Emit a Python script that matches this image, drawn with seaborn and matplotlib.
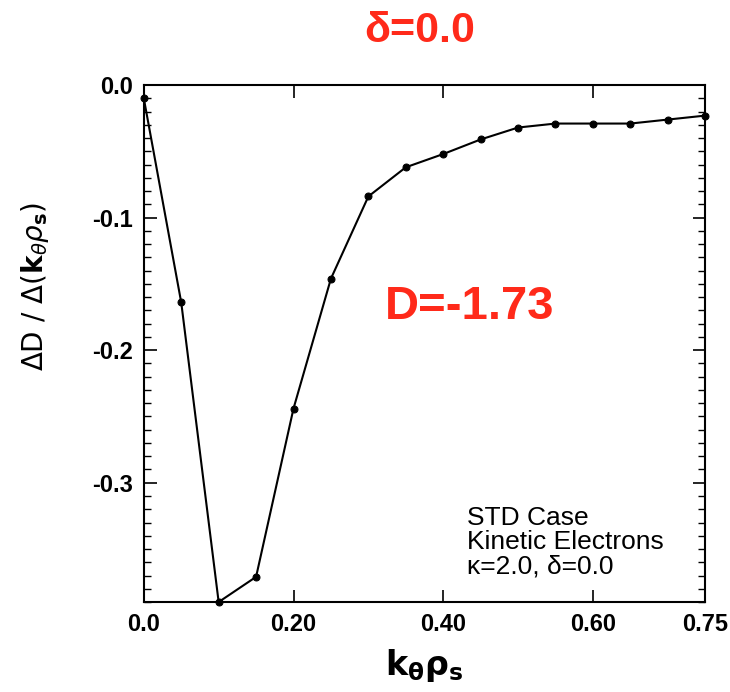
import matplotlib
matplotlib.use("Agg")
import matplotlib.pyplot as plt
import seaborn as sns
import pandas as pd
from matplotlib.ticker import MultipleLocator

k_theta_rho = [0.00, 0.05, 0.10, 0.15, 0.20, 0.25, 0.30, 0.35, 0.40,
               0.45, 0.50, 0.55, 0.60, 0.65, 0.70, 0.75]
dD_dk = [-0.010, -0.164, -0.390, -0.371, -0.244, -0.146, -0.084, -0.062,
         -0.052, -0.041, -0.032, -0.029, -0.029, -0.029, -0.026, -0.023]
x_ticks = [0.0, 0.20, 0.40, 0.60, 0.75]
x_tick_labels = ["0.0", "0.20", "0.40", "0.60", "0.75"]
y_ticks = [0.0, -0.1, -0.2, -0.3]
y_tick_labels = ["0.0", "-0.1", "-0.2", "-0.3"]

sns.set_style("ticks")
plt.rcParams['font.family'] = ['Liberation Sans', 'DejaVu Sans']
plt.rcParams['mathtext.fontset'] = 'dejavusans'
plt.rcParams['text.color'] = 'black'
plt.rcParams['axes.labelcolor'] = 'black'
plt.rcParams['xtick.color'] = 'black'
plt.rcParams['ytick.color'] = 'black'

df = pd.DataFrame({"k": k_theta_rho, "d": dD_dk})

fig = plt.figure(figsize=(7.3, 6.92), dpi=100)
ax = fig.add_axes([0.197, 0.130, 0.769, 0.747])
sns.lineplot(data=df, x="k", y="d", ax=ax, color="black", linewidth=1.5,
             marker="o", markersize=5, markeredgecolor="black", clip_on=False)

ax.set_xlim(0.0, 0.75)
ax.set_ylim(-0.39, 0.0)
ax.set_xticks(x_ticks)
ax.set_xticklabels(x_tick_labels, fontsize=17, fontweight="bold")
ax.set_yticks(y_ticks)
ax.set_yticklabels(y_tick_labels, fontsize=17, fontweight="bold")
ax.yaxis.set_minor_locator(MultipleLocator(0.01))
ax.tick_params(axis="both", which="major", direction="in", length=9, width=1.2,
               top=True, right=True, pad=8)
ax.tick_params(axis="y", which="minor", direction="in", length=5, width=1.0,
               left=True, right=True)
for s in ax.spines.values():
    s.set_linewidth(1.5)
    s.set_color("black")

ax.set_xlabel(r"$\mathbf{k}_{\mathbf{\theta}}\mathbf{\rho}_{\mathbf{s}}$", fontsize=24, labelpad=8)
ax.set_ylabel(r"$\Delta\mathrm{D}\ /\ \Delta(\mathbf{k}_{\theta}\rho_{\mathbf{s}})$", fontsize=20)
ax.yaxis.set_label_coords(-0.165, 0.61)

fig.text(0.575, 0.955, "δ=0.0", color="#ff2a1a", fontsize=31, fontweight="bold",
         ha="center", va="center")
ax.text(0.43, 0.57, "D=-1.73", color="#ff2a1a", fontsize=34, fontweight="bold",
        transform=ax.transAxes, ha="left", va="center")
ax.text(0.575, 0.185, "STD Case\nKinetic Electrons\nκ=2.0, δ=0.0", fontsize=19,
        transform=ax.transAxes, ha="left", va="top", linespacing=1.0)

fig.savefig("out.png", dpi=100)
